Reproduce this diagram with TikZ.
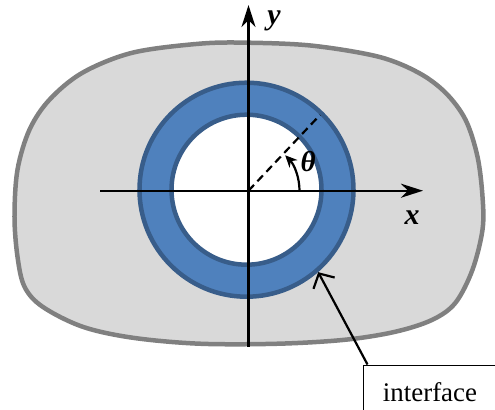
\documentclass[tikz,border=0pt]{standalone}
\usepackage{fontspec}
\setmainfont{Liberation Serif}
\usetikzlibrary{positioning, arrows.meta}
\definecolor{hostgray}{HTML}{D9D9D9}
\definecolor{hostedge}{HTML}{808080}
\definecolor{ringblue}{HTML}{4F81BD}
\definecolor{ringedge}{HTML}{385D8A}

\begin{document}
\begin{tikzpicture}[x=1bp, y=1bp,
  axis/.style={line width=2.4bp, -{Stealth[length=22bp, width=14bp, inset=7bp]}},
  pointer/.style={line width=2.2bp, -{Straight Barb[length=11bp, width=24bp]}},
  lab/.style={inner sep=0pt, font=\fontsize{30}{30}\selectfont\bfseries\itshape}]
  \useasboundingbox (-248.5,-218.3) rectangle (246.5,190.7);
  \clip (-248.5,-218.3) rectangle (246.5,190.7);
  \draw[fill=hostgray, draw=hostedge, line width=4.5bp] plot[smooth cycle, tension=0.55] coordinates {
    (0,148) (64,145) (130,134) (170,118) (197,98) (217,71) (229,34) (234,-6)
    (234,-39) (224,-79) (207,-112) (184,-129) (147,-141) (97,-149) (30,-153)
    (-49,-153) (-116,-147) (-166,-136) (-206,-116) (-224,-96) (-231,-66)
    (-234,-26) (-231,21) (-219,61) (-199,91) (-166,118) (-116,138) (-49,147)};
  \node[circle, minimum size=214bp, inner sep=0pt, fill=ringblue, draw=ringedge, line width=4.5bp] (ring) at (-2,1) {};
  \node[circle, minimum size=150bp, inner sep=0pt, fill=white, draw=ringedge, line width=4.5bp] (hole) at (ring.center) {};
  \coordinate (O) at (0,0);
  \coordinate (xl) at (-148,0);
  \coordinate (xr) at (174.5,0);
  \coordinate (yb) at (0,-156);
  \coordinate (yt) at (0,185.7);
  \coordinate (dir) at (71.5,75.7);
  \draw[axis] (xl) -- (xr);
  \draw[axis] (yb) -- (yt);
  \draw[line width=2.2bp, dash pattern=on 8bp off 5bp] (O) -- (dir);
  \draw[line width=2.2bp, -{Stealth[length=12bp, width=11bp]}] ([xshift=51bp]O) arc[start angle=0, end angle=44, radius=51bp];
  \node[lab] (ylab) at (25.5,170) {y};
  \node[lab] (xlab) at (163.5,-27.3) {x};
  \node[lab, font=\fontsize{29}{29}\selectfont\bfseries\itshape] (thlab) at (59.5,28.7) {θ};
  \node[draw, line width=1bp, minimum width=134bp, minimum height=54bp, font=\fontsize{27}{27}\selectfont] (iface) at (181.5,-201.3) {interface};
  \draw[pointer] ([xshift=5bp]iface.north west) -- (ring.-49);
\end{tikzpicture}
\end{document}
